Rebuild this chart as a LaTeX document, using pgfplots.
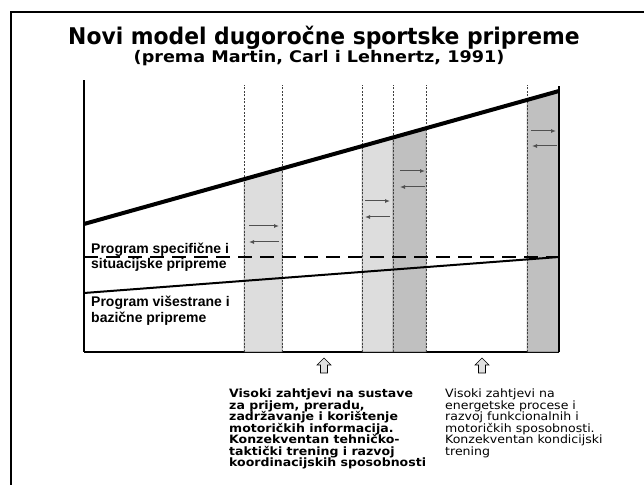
\documentclass[border=0pt]{standalone}
\usepackage{fontspec}
\setmainfont{DejaVu Sans}
\newfontfamily\titlefont[FakeStretch=0.95]{DejaVu Sans}
\newfontfamily\subtitlefont[FakeStretch=1.1]{DejaVu Sans}
\newfontfamily\bodyfont[FakeStretch=1.09]{DejaVu Sans}
\newfontfamily\arialfont{Liberation Sans}
\usepackage{pgfplots}
\pgfplotsset{compat=1.18}
\usetikzlibrary{arrows.meta}
\definecolor{bandlight}{RGB}{221,221,221}
\definecolor{banddark}{RGB}{192,192,192}
\definecolor{arrgray}{RGB}{80,80,80}
\begin{document}
\begin{tikzpicture}[x=1pt,y=1pt]
\useasboundingbox (0,0) rectangle (644,484);
% frame
\draw[line width=2.5pt] (11,-20) -- (11,472) -- (700,472);
% title
\node[anchor=base, inner sep=0] at (324,439) {\titlefont\bfseries\fontsize{23}{27}\selectfont Novi model dugoročne sportske pripreme};
\node[anchor=base, inner sep=0] at (319,421) {\subtitlefont\bfseries\fontsize{16}{18}\selectfont (prema Martin, Carl i Lehnertz, 1991)};
\begin{axis}[at={(84pt,132pt)}, anchor=south west, x=1pt, y=1pt,
  xmin=84, xmax=559, ymin=132, ymax=404,
  axis lines*=left, ticks=none, clip=false,
  x axis line style={line width=2.4pt},
  y axis line style={line width=1.8pt}]
% bands
\addplot[fill=bandlight, draw=black!60, line width=0.5pt] coordinates {(244,132) (244,304.8) (282,315.4) (282,132)} -- cycle;
\addplot[fill=bandlight, draw=black!60, line width=0.5pt] coordinates {(362,132) (362,337.8) (393,346.5) (393,132)} -- cycle;
\addplot[fill=banddark, draw=black!60, line width=0.5pt] coordinates {(393,132) (393,346.5) (426,355.8) (426,132)} -- cycle;
\addplot[fill=banddark, draw=black!60, line width=0.5pt] coordinates {(527,132) (527,384.0) (559,393) (559,132)} -- cycle;
% dotted verticals
\addplot[black!75, line width=0.7pt, dash pattern=on 2pt off 1.5pt] coordinates {(244,132) (244,399)};
\addplot[black!75, line width=0.7pt, dash pattern=on 2pt off 1.5pt] coordinates {(282,132) (282,399)};
\addplot[black!75, line width=0.7pt, dash pattern=on 2pt off 1.5pt] coordinates {(362,132) (362,399)};
\addplot[black!75, line width=0.7pt, dash pattern=on 2pt off 1.5pt] coordinates {(393,132) (393,399)};
\addplot[black!75, line width=0.7pt, dash pattern=on 2pt off 1.5pt] coordinates {(426,132) (426,399)};
\addplot[black!75, line width=0.7pt, dash pattern=on 2pt off 1.5pt] coordinates {(527,132) (527,399)};
% lines
\addplot[black, line width=2pt] coordinates {(84,191) (559,227)};
\addplot[black, line width=2.4pt, dash pattern=on 14pt off 8pt] coordinates {(84,227) (559,227)};
\addplot[black, line width=4pt] coordinates {(84,260) (559,393)};
\addplot[black, line width=2.4pt] coordinates {(559,132) (559,398)};
% arrows
\addplot[arrgray, line width=1pt, -{Latex[length=5pt,width=4pt]}] coordinates {(249,258) (279,258)};
\addplot[arrgray, line width=1pt, -{Latex[length=5pt,width=4pt]}] coordinates {(279,242) (249,242)};
\addplot[arrgray, line width=1pt, -{Latex[length=5pt,width=4pt]}] coordinates {(365,283) (390,283)};
\addplot[arrgray, line width=1pt, -{Latex[length=5pt,width=4pt]}] coordinates {(390,267) (365,267)};
\addplot[arrgray, line width=1pt, -{Latex[length=5pt,width=4pt]}] coordinates {(400,313) (425,313)};
\addplot[arrgray, line width=1pt, -{Latex[length=5pt,width=4pt]}] coordinates {(425,297) (400,297)};
\addplot[arrgray, line width=1pt, -{Latex[length=5pt,width=4pt]}] coordinates {(531,353) (556,353)};
\addplot[arrgray, line width=1pt, -{Latex[length=5pt,width=4pt]}] coordinates {(557,338) (532,338)};
\end{axis}
% labels inside
\begin{scope}[every node/.style={anchor=base west, inner sep=0, font=\arialfont\bfseries\fontsize{14}{16}\selectfont}]
\node at (91,230.5) {Program specifične i};
\node at (91,215) {situacijske pripreme};
\node at (91,177) {Program višestrane i};
\node at (91,161.5) {bazične pripreme};
\end{scope}
% up arrows
\foreach \cx in {324,482}{
  \draw[line width=0.6pt, fill=black!12, line join=miter]
    (\cx,126) -- (\cx+7,119) -- (\cx+3.5,119) -- (\cx+3.5,111) -- (\cx-3.5,111) -- (\cx-3.5,119) -- (\cx-7,119) -- cycle;
}
% bottom texts
\begin{scope}[every node/.style={anchor=base west, inner sep=0, font=\bodyfont\bfseries\fontsize{11.5}{12}\selectfont}]
\node at (229,86) {Visoki zahtjevi na sustave};
\node at (229,74.6) {za prijem, preradu,};
\node at (229,63.2) {zadržavanje i korištenje};
\node at (229,51.8) {motoričkih informacija.};
\node at (229,40.4) {Konzekventan tehničko-};
\node at (229,29) {taktički trening i razvoj};
\node at (229,17.6) {koordinacijskih sposobnosti};
\end{scope}
\begin{scope}[every node/.style={anchor=base west, inner sep=0, font=\bodyfont\fontsize{11.5}{12}\selectfont}]
\node at (445,86) {Visoki zahtjevi na};
\node at (445,74.6) {energetske procese i};
\node at (445,63.2) {razvoj funkcionalnih i};
\node at (445,51.8) {motoričkih sposobnosti.};
\node at (445,40.4) {Konzekventan kondicijski};
\node at (445,29) {trening};
\end{scope}
\end{tikzpicture}
\end{document}
